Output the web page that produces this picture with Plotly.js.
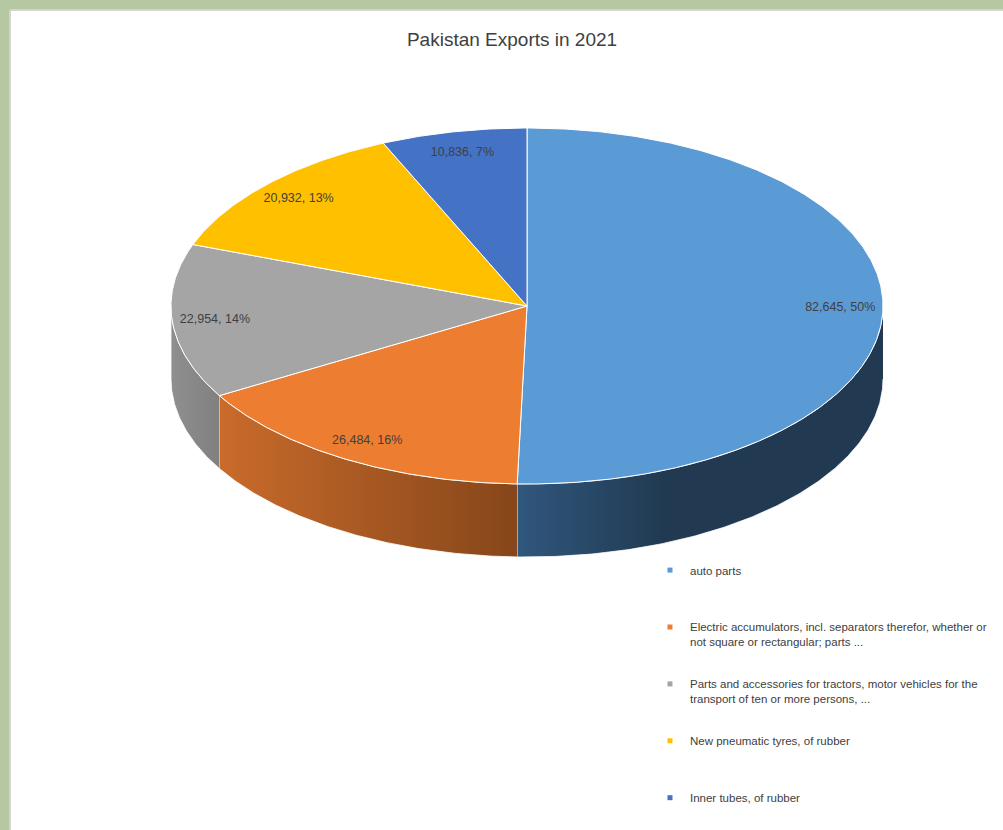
<!DOCTYPE html>
<html><head><meta charset="utf-8">
<script src="https://cdn.plot.ly/plotly-3.0.1.min.js"></script>
<style>html,body{margin:0;padding:0;background:#fff}#chart{width:1003px;height:830px}</style>
</head><body><div id="chart"></div>
<script>
// ---- data ----
const categories = [
  "auto parts",
  "Electric accumulators, incl. separators therefor, whether or not square or rectangular; parts ...",
  "Parts and accessories for tractors, motor vehicles for the transport of ten or more persons, ...",
  "New pneumatic tyres, of rubber",
  "Inner tubes, of rubber"
];
const values = [82645, 26484, 22954, 20932, 10836];
const topColors = ["#5b9bd5", "#ed7d31", "#a5a5a5", "#ffc000", "#4472c4"];
const sideLeft  = ["#30577d", "#c96b2b", "#8f8f8f", "#c79600", "#35599a"];
const sideRight = ["#213a51", "#86461a", "#808080", "#a67d00", "#2b4a80"];
const sideMid   = [0.4, 1, 1, 1, 1];
const chartTitle = "Pakistan Exports in 2021";

// ---- geometry (style) ----
const cx = 527, cy = 306, rx = 356, ry = 178, depth = 73, labelR = 0.88;
const FONT = "'Liberation Sans Narrow', 'Liberation Sans', Arial, sans-serif";
const total = values.reduce((a, b) => a + b, 0);
const rad = d => d * Math.PI / 180;
const pt = (deg, dy) => [cx + rx * Math.sin(rad(deg)), cy - ry * Math.cos(rad(deg)) + (dy || 0)];
function arc(a, b, dy) {
  const n = Math.max(2, Math.ceil(Math.abs(b - a) / 0.5));
  const out = [];
  for (let i = 0; i <= n; i++) out.push(pt(a + (b - a) * i / n, dy));
  return out;
}
function wrap(s, max) {
  const words = s.split(" "); const lines = []; let cur = "";
  words.forEach(w => { const t = cur ? cur + " " + w : w; if (t.length > max && cur) { lines.push(cur); cur = w; } else cur = t; });
  lines.push(cur); return lines;
}

const angles = []; let acc = 0;
values.forEach(v => { const a = acc / total * 360; acc += v; angles.push([a, acc / total * 360]); });

const traces = [];
// side walls (front half only)
angles.forEach(([a, b], i) => {
  const s = Math.max(a, 90), e = Math.min(b, 270);
  if (e <= s) return;
  const pts = arc(s, e, 0).concat(arc(e, s, depth));
  const cs = sideMid[i] >= 1 ? [[0, sideLeft[i]], [1, sideRight[i]]]
                             : [[0, sideLeft[i]], [sideMid[i], sideRight[i]], [1, sideRight[i]]];
  traces.push({
    type: "scatter", mode: "lines", x: pts.map(p => p[0]), y: pts.map(p => p[1]),
    fill: "toself", line: { color: "#ffffff", width: 0.8 },
    fillgradient: { type: "horizontal", colorscale: cs },
    hoverinfo: "skip", showlegend: false
  });
});
// top faces
angles.forEach(([a, b], i) => {
  const pts = [[cx, cy]].concat(arc(a, b, 0)).concat([[cx, cy]]);
  traces.push({
    type: "scatter", mode: "lines", x: pts.map(p => p[0]), y: pts.map(p => p[1]),
    fill: "toself", fillcolor: topColors[i], line: { color: "#ffffff", width: 1 },
    name: categories[i], hoverinfo: "name", showlegend: false
  });
});
// data labels
const lab = angles.map(([a, b]) => pt((a + b) / 2, 0)).map(p => [cx + (p[0] - cx) * labelR, cy + (p[1] - cy) * labelR]);
traces.push({
  type: "scatter", mode: "text", x: lab.map(p => p[0]), y: lab.map(p => p[1]),
  text: values.map(v => v.toLocaleString("en-US") + ", " + Math.round(v / total * 100) + "%"),
  textfont: { family: FONT, size: 12.5, color: "#404040" }, hoverinfo: "skip", showlegend: false
});
// legend entries
categories.forEach((c, i) => {
  const lines = wrap(c, 60);
  if (lines.length < 2) lines.push(" ");
  traces.push({
    type: "scatter", mode: "markers", x: [null], y: [null], name: lines.join("<br>"),
    legendgroup: "g" + i, marker: { symbol: "square", size: 5, color: topColors[i] }
  });
});

const layout = {
  width: 1003, height: 830,
  margin: { l: 10, r: 0, t: 10, b: 0, autoexpand: false },
  paper_bgcolor: "#b6c8a1", plot_bgcolor: "#ffffff",
  title: { text: chartTitle, x: 0.5105, xref: "container", y: 0.953, yref: "container", yanchor: "middle",
           font: { family: FONT, size: 19, color: "#404040" } },
  xaxis: { range: [10, 1003], visible: false, fixedrange: true },
  yaxis: { range: [830, 10], visible: false, fixedrange: true },
  showlegend: true,
  legend: { x: 0.6445, xref: "paper", xanchor: "left", y: 0.334, yref: "paper", yanchor: "top",
            bgcolor: "rgba(0,0,0,0)", traceorder: "grouped", tracegroupgap: 24, valign: "top",
            itemwidth: 30, font: { family: FONT, size: 11.5, color: "#404040" } },
  shapes: [
    { type: "line", xref: "paper", yref: "paper", x0: 0, x1: 0, y0: 0, y1: 1, line: { color: "#d4d4d4", width: 2 } },
    { type: "line", xref: "paper", yref: "paper", x0: 0, x1: 1, y0: 1, y1: 1, line: { color: "#d4d4d4", width: 2 } }
  ]
};
Plotly.newPlot("chart", traces, layout, { displayModeBar: false, staticPlot: true });
</script>
</body></html>
